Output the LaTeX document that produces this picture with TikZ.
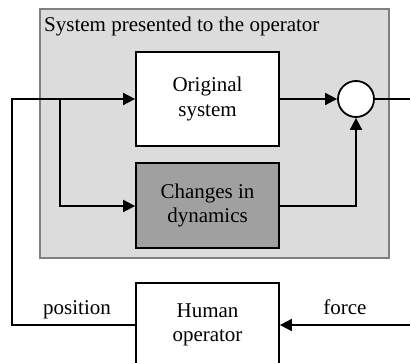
\documentclass[tikz,border=0pt]{standalone}
\usepackage{fontspec}
\setmainfont{Liberation Serif}
\usetikzlibrary{arrows.meta}
\definecolor{panelfill}{RGB}{220,220,220}
\definecolor{panelline}{RGB}{128,128,128}
\definecolor{darkfill}{RGB}{160,160,160}
\begin{document}
\begin{tikzpicture}[x=1pt,y=-1pt,
  font=\fontsize{21}{24.5}\selectfont,
  blk/.style={draw=black,line width=1.8pt,fill=white,minimum width=143pt,align=center,inner sep=0pt},
  wire/.style={draw=black,line width=1.8pt},
  arr/.style={wire,-{Triangle[length=12pt,width=12pt]}}]
\useasboundingbox (0,0) rectangle (410,363);
\clip (0,0) rectangle (410,363);
\node[draw=panelline,fill=panelfill,line width=1.8pt,minimum width=349pt,minimum height=249pt,inner sep=0pt] (panel) at (214.5,133.5) {};
\node[anchor=base west,inner sep=0pt] (title) at (44,32) {System presented to the operator};
\node[blk,minimum height=94pt] (orig) at (207.5,99) {Original\\system};
\node[blk,fill=darkfill,minimum height=85pt] (chg) at (207.5,205.5) {Changes in\\dynamics};
\node[draw=black,line width=1.8pt,fill=white,circle,minimum size=36pt,inner sep=0pt] (sum) at (356,99) {};
\node[blk,minimum height=84pt] (hum) at (207.5,325) {Human\\operator};
\coordinate (posl) at (12,325);
\coordinate (br) at (60,99);
\coordinate (brd) at (60,206);
\coordinate (out) at (410,99);
\coordinate (fin) at (410,325);
\coordinate (cr) at (356,206);
\draw[arr] (hum.west) -- (posl) |- (orig.west);
\draw[arr] (br) -- (brd) -- (brd -| chg.west);
\draw[arr] (chg.east |- cr) -- (cr) -- (sum.south);
\draw[arr] (orig.east) -- (sum.west);
\draw[wire] (sum.east) -- (out);
\draw[arr] (fin) -- (hum.east);
\node[anchor=base,inner sep=0pt] (poslab) at (77,315) {position};
\node[anchor=base,inner sep=0pt] (forcelab) at (345,315) {force};
\end{tikzpicture}
\end{document}
